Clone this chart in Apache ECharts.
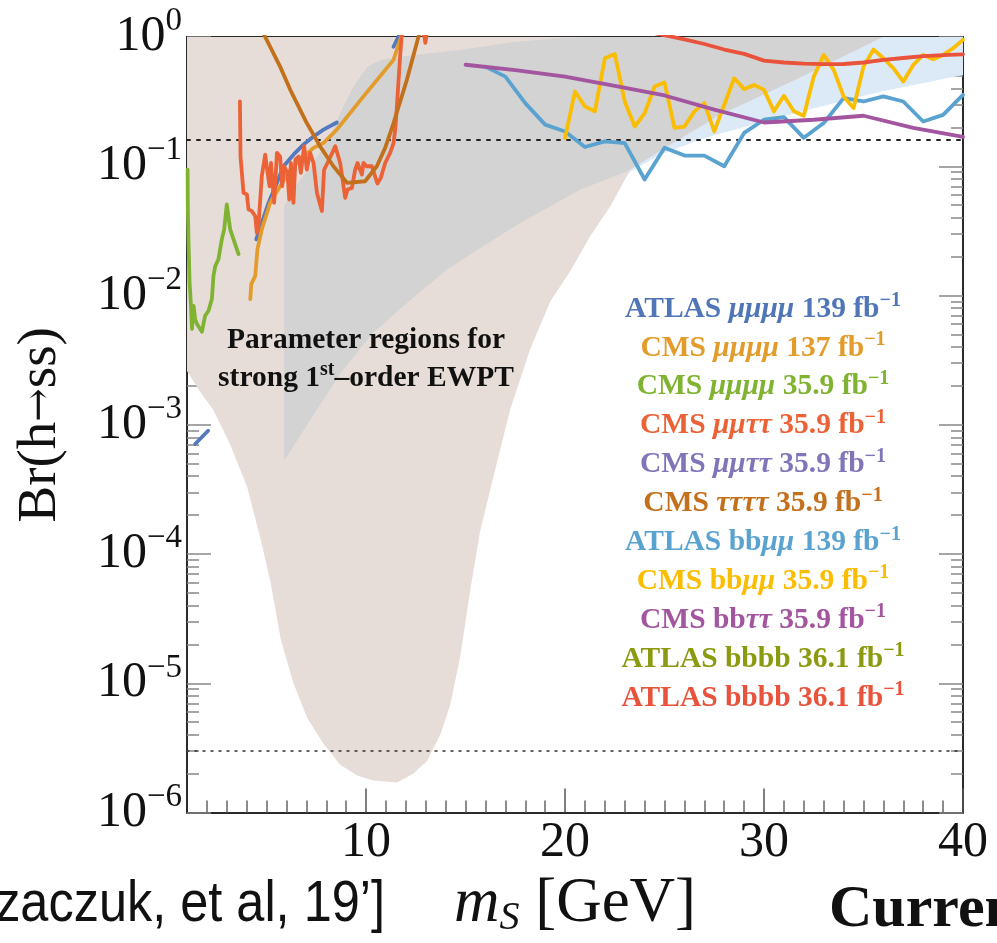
<!DOCTYPE html>
<html>
<head>
<meta charset="utf-8">
<script src="https://cdn.jsdelivr.net/npm/echarts@6/dist/echarts.min.js"></script>
<style>
  html, body { margin: 0; padding: 0; background: #ffffff; }
  #chart { width: 997px; height: 943px; }
</style>
</head>
<body>
<div id="chart"></div>
<script>
// ---- data: [m_S (GeV), Br(h -> ss)] ----

// parameter regions for a strong first-order EWPT
const ewptRegion = [
  [26.8, 1.0], [23.77, 0.113], [23.12, 0.0848], [22.27, 0.0489], [21.26, 0.0287],
  [20.26, 0.0154], [19.26, 0.00905], [18.25, 0.00386], [17.24, 0.00131], [16.59, 5.19e-4],
  [15.73, 1.50e-4], [15.23, 5.17e-5], [14.73, 1.60e-5], [14.23, 6.82e-6], [13.73, 4.01e-6],
  [13.07, 2.52e-6], [12.37, 2.00e-6], [11.56, 1.71e-6], [10.36, 1.77e-6], [9.55, 1.94e-6],
  [8.70, 2.35e-6], [7.85, 3.42e-6], [7.04, 5.42e-6], [6.34, 1.01e-5], [5.71, 2.20e-5],
  [5.21, 5.95e-5], [4.70, 1.30e-4], [4.03, 3.27e-4], [3.17, 7.03e-4], [2.32, 1.31e-3],
  [1.66, 1.80e-3], [1.0, 2.61e-3], [1.0, 1.0]
];
const blueRegion = [
  [23.12, 0.0879], [24.78, 0.123], [26.79, 0.161], [27.8, 0.179], [31.82, 0.264],
  [35.84, 0.377], [40, 0.509], [40, 1.0], [26.8, 1.0]
];
const grayRegion = [
  [5.88, 5.28e-4], [5.88, 0.0489], [6.34, 0.0661], [7.34, 0.107], [8.20, 0.169],
  [8.70, 0.259], [9.35, 0.411], [10.06, 0.587], [10.71, 0.665], [12.37, 0.727],
  [14.73, 0.794], [17.37, 0.915], [19.88, 0.982], [21.76, 1.0], [35.98, 1.0],
  [31.8, 0.483], [27.8, 0.250], [25.28, 0.147], [23.12, 0.091], [20.76, 0.0661],
  [17.39, 0.0337], [14.08, 0.0160], [11.71, 0.00785], [10.30, 0.00504], [8.70, 0.00248],
  [7.29, 0.00115]
];

// reference lines
const brExoticLimit = 0.16;
const brFutureReach = 3e-6;

// experimental limits (null = gap in the curve)
const atlas4mu139 = [
  [1.41, 7.1e-4], [2.06, 9.0e-4], null,
  [4.48, 0.0272], [4.76, 0.0366], [5.10, 0.0522], [5.52, 0.0745], [5.85, 0.100],
  [6.35, 0.123], [6.85, 0.147], [7.36, 0.170], [7.86, 0.192], [8.53, 0.218], null,
  [11.38, 0.84], [11.71, 1.07]
];
const cms4mu137 = [
  [4.18, 0.00938], [4.23, 0.01225], [4.43, 0.0142], [4.54, 0.0228], [4.76, 0.0325],
  [5.18, 0.0522], [5.68, 0.0701], [6.19, 0.0943], [6.69, 0.1127], [7.36, 0.1387],
  [7.86, 0.1514], [8.53, 0.192], [9.87, 0.347], [11.38, 0.665], [11.71, 0.948], [11.85, 1.1]
];
const cms4mu36 = [
  [1.03, 0.0943], [1.04, 0.0491], [1.08, 0.0242], [1.13, 0.0126], [1.2, 0.00833],
  [1.25, 0.00551], [1.33, 0.00833], [1.41, 0.00658], [1.5, 0.00602], [1.75, 0.00525],
  [1.91, 0.00697], [2.08, 0.00762], [2.25, 0.00938], [2.33, 0.0142], [2.42, 0.0169],
  [2.5, 0.0175], [2.58, 0.0191], [2.75, 0.0272], [2.87, 0.0325], [3.0, 0.0507],
  [3.17, 0.0325], [3.59, 0.0209]
];
const cms2mu2tau36 = [
  [3.66, 0.317], [3.69, 0.119], [3.76, 0.119], [3.84, 0.0623], [4.01, 0.0605],
  [4.09, 0.0464], [4.26, 0.045], [4.43, 0.0411], [4.51, 0.0306], [4.59, 0.0345],
  [4.76, 0.0838], [4.93, 0.123], [5.05, 0.0889], [5.15, 0.0701], [5.22, 0.106],
  [5.38, 0.0522], [5.52, 0.127], [5.68, 0.119], [5.78, 0.0701], [5.88, 0.1],
  [6.05, 0.0889], [6.14, 0.0553], [6.22, 0.106], [6.35, 0.0522], [6.45, 0.113],
  [6.62, 0.119], [6.72, 0.0889], [6.89, 0.143], [7.02, 0.0943], [7.19, 0.127],
  [7.36, 0.106], [7.53, 0.0623], [7.78, 0.045], [7.89, 0.0943], [8.06, 0.106],
  [8.30, 0.127], [8.45, 0.143], [8.70, 0.106], [8.95, 0.057], [9.07, 0.0661],
  [9.29, 0.068], [9.45, 0.0943], [9.57, 0.106], [9.79, 0.0863], [9.87, 0.106],
  [10.04, 0.1], [10.29, 0.1], [10.57, 0.0736], [10.74, 0.0813], [10.96, 0.106],
  [11.21, 0.127], [11.38, 0.151], [11.48, 0.203], [11.58, 0.347], [11.71, 0.705],
  [11.80, 1.07], null,
  [12.85, 1.2], [12.98, 0.9], [13.1, 1.2]
];
const cms4tau36 = [
  [4.85, 1.06], [5.68, 0.59], [6.19, 0.39], [7.02, 0.216], [7.69, 0.1426],
  [8.36, 0.1], [9.04, 0.0745], [9.95, 0.0766], [10.54, 0.1], [10.96, 0.1387],
  [11.38, 0.216], [12.05, 0.466], [12.63, 1.0], [12.72, 1.1]
];
const atlasBbmm139 = [
  [16, 0.59], [17, 0.494], [18, 0.308], [19, 0.21], [20, 0.186], [21, 0.141],
  [22, 0.156], [23, 0.151], [24, 0.079], [25, 0.139], [26, 0.121], [27, 0.121],
  [28, 0.10], [29, 0.181], [30, 0.229], [31, 0.240], [32, 0.166], [33, 0.216],
  [34, 0.337], [35, 0.317], [36, 0.347], [37, 0.317], [38, 0.222], [39, 0.25], [40, 0.357]
];
const cmsBbmm36 = [
  [20, 0.166], [20.5, 0.379], [21, 0.290], [21.5, 0.266], [22, 0.685], [22.5, 0.74],
  [23, 0.317], [23.5, 0.203], [24, 0.258], [24.5, 0.414], [25, 0.444], [25.5, 0.198],
  [26, 0.203], [26.5, 0.266], [27, 0.308], [27.5, 0.186], [28, 0.299], [28.5, 0.48],
  [29, 0.395], [29.5, 0.426], [30, 0.39], [30.5, 0.266], [31, 0.351], [31.5, 0.266],
  [32, 0.246], [32.5, 0.494], [33, 0.727], [33.5, 0.557], [34, 0.347], [34.5, 0.282],
  [35, 0.59], [35.5, 0.80], [36, 0.685], [36.5, 0.574], [37, 0.452], [37.5, 0.608],
  [38, 0.727], [38.5, 0.673], [39, 0.727], [39.5, 0.818], [40, 0.95]
];
const cmsBbtt36 = [
  [15, 0.61], [17.5, 0.555], [20, 0.494], [22.5, 0.419], [25, 0.353], [27.5, 0.274],
  [30, 0.218], [32.5, 0.229], [35, 0.246], [37.5, 0.198], [40, 0.169]
];
const atlasBbbb36 = [
  [24.5, 1.07], [26, 0.958], [27, 0.883], [28, 0.80], [29, 0.74], [30, 0.657],
  [31, 0.635], [32, 0.622], [33, 0.616], [34, 0.618], [35, 0.635], [36, 0.665],
  [37, 0.688], [38, 0.71], [39, 0.725], [40, 0.735]
];

// axis ticks
const xMajorTicks = [10, 20, 30, 40];
const xMinorTicks = [];
for (let i = 2; i < 40; i++) if (i % 10 !== 0) xMinorTicks.push(i);
const yMinorTicks = [];
for (let e = -6; e < 0; e++) for (let k = 2; k <= 9; k++) yMinorTicks.push(Math.log10(k) + e);

// legend rows (rich text markup, colour)
const legendRows = [
  ['{n|ATLAS }{g|μμμμ}{n| 139 fb}{s|−1}', '#5176b8'],
  ['{n|CMS }{g|μμμμ}{n| 137 fb}{s|−1}', '#e39c2c'],
  ['{n|CMS }{g|μμμμ}{n| 35.9 fb}{s|−1}', '#80b332'],
  ['{n|CMS }{g|μμττ}{n| 35.9 fb}{s|−1}', '#ec6237'],
  ['{n|CMS }{g|μμττ}{n| 35.9 fb}{s|−1}', '#8274b8'],
  ['{n|CMS }{g|ττττ}{n| 35.9 fb}{s|−1}', '#c3701c'],
  ['{n|ATLAS bb}{g|μμ}{n| 139 fb}{s|−1}', '#5aa3d0'],
  ['{n|CMS bb}{g|μμ}{n| 35.9 fb}{s|−1}', '#fbbd00'],
  ['{n|CMS bb}{g|ττ}{n| 35.9 fb}{s|−1}', '#a3559f'],
  ['{n|ATLAS bbbb 36.1 fb}{s|−1}', '#8b9a0f'],
  ['{n|ATLAS bbbb 36.1 fb}{s|−1}', '#e9523b']
];

// ---- drawing ----
const SERIF = '"Liberation Serif", "Times New Roman", "DejaVu Serif", serif';
const SANS = '"Liberation Sans", Arial, sans-serif';
const toLog = v => Math.log10(v);

function region(name, pts, color, z) {
  return {
    type: 'custom', name, z, silent: true, clip: true, animation: false,
    coordinateSystem: 'cartesian2d', xAxisIndex: 0, yAxisIndex: 0,
    data: [[pts[0][0], toLog(pts[0][1])]],
    renderItem: (params, api) => ({
      type: 'polygon',
      shape: { points: pts.map(p => api.coord([p[0], toLog(p[1])])) },
      style: { fill: color, stroke: null }
    })
  };
}

function curve(name, pts, color, z, width, dash) {
  const runs = [[]];
  pts.forEach(p => { if (p === null) runs.push([]); else runs[runs.length - 1].push(p); });
  return runs.filter(r => r.length > 1).map(run => ({
    type: 'line', name, z, silent: true, animation: false, clip: true,
    xAxisIndex: 0, yAxisIndex: 0,
    showSymbol: false, symbol: 'none', smooth: false,
    data: run.map(p => [p[0], toLog(p[1])]),
    lineStyle: { color, width: width || 3.8, type: dash || 'solid', cap: 'round', join: 'round' },
    itemStyle: { color },
    emphasis: { disabled: true }
  }));
}

const series = [
  region('EWPT region', ewptRegion, '#e6ddd8', 1),
  region('blue region', blueRegion, '#dce9f7', 2),
  region('gray region', grayRegion, '#d3d3d3', 3),
  ...curve('Br limit', [[1, brExoticLimit], [40, brExoticLimit]], '#222', 4, 2, [3, 7]),
  ...curve('future reach', [[1, brFutureReach], [40, brFutureReach]], '#333', 4, 1.5, [2, 6]),
  ...curve('CMS μμμμ 35.9', cms4mu36, '#80b332', 5),
  ...curve('ATLAS μμμμ 139', atlas4mu139, '#5479bd', 6),
  ...curve('CMS μμμμ 137', cms4mu137, '#e39c2c', 7),
  ...curve('CMS μμττ 35.9', cms2mu2tau36, '#ec6237', 8),
  ...curve('CMS ττττ 35.9', cms4tau36, '#c3701c', 9),
  ...curve('ATLAS bbμμ 139', atlasBbmm139, '#5aa3d0', 10),
  ...curve('CMS bbμμ 35.9', cmsBbmm36, '#fbbd00', 11),
  ...curve('CMS bbττ 35.9', cmsBbtt36, '#a3559f', 12),
  ...curve('ATLAS bbbb 36.1', atlasBbbb36, '#e9523b', 13)
];

const xBase = { type: 'value', min: 1, max: 40, splitLine: { show: false } };
const yBase = { type: 'value', min: -6, max: 0, interval: 1, splitLine: { show: false } };
const frameLine = { show: true, onZero: false, lineStyle: { color: '#2a2a2a', width: 2 } };
const noLine = { show: false, onZero: false };

const xAxes = [
  Object.assign({}, xBase, {
    position: 'bottom', axisLine: frameLine,
    axisTick: { show: true, inside: true, length: 24, customValues: xMajorTicks, lineStyle: { color: '#555', width: 1.5 } },
    axisLabel: { customValues: xMajorTicks, fontFamily: SERIF, fontSize: 50, color: '#111', margin: 5 },
    name: '{i|m}{sub|S}{r| [GeV]}', nameLocation: 'middle', nameGap: 57,
    nameTextStyle: {
      rich: {
        i: { fontFamily: SERIF, fontStyle: 'italic', fontSize: 63, color: '#111', lineHeight: 68 },
        sub: { fontFamily: SERIF, fontStyle: 'italic', fontSize: 40, color: '#111', lineHeight: 38, verticalAlign: 'bottom' },
        r: { fontFamily: SERIF, fontSize: 63, color: '#111', lineHeight: 68 }
      }
    }
  }),
  Object.assign({}, xBase, {
    position: 'bottom', axisLine: noLine,
    axisTick: { show: true, inside: true, length: 12, customValues: xMinorTicks, lineStyle: { color: '#666', width: 1.5 } },
    axisLabel: { show: false }
  }),
  Object.assign({}, xBase, {
    position: 'top', axisLine: frameLine,
    axisTick: { show: true, inside: true, length: 24, customValues: xMajorTicks, lineStyle: { color: '#333', width: 1.5 } },
    axisLabel: { show: false }
  }),
  Object.assign({}, xBase, {
    position: 'top', axisLine: noLine,
    axisTick: { show: true, inside: true, length: 11, customValues: xMinorTicks, lineStyle: { color: '#333', width: 1.5 } },
    axisLabel: { show: false }
  })
];

const yAxes = [
  Object.assign({}, yBase, {
    position: 'left', axisLine: frameLine,
    axisTick: { show: true, inside: true, length: 24, lineStyle: { color: '#888', width: 1.5 } },
    axisLabel: {
      margin: 5,
      formatter: v => {
        const e = Math.round(v);
        return '{b|10}{s|' + (e < 0 ? '−' + (-e) : String(e)) + '}';
      },
      rich: {
        b: { fontFamily: SERIF, fontSize: 50, color: '#111', lineHeight: 64 },
        s: { fontFamily: SERIF, fontSize: 33, color: '#111', lineHeight: 30, verticalAlign: 'top' }
      }
    },
    name: '{t|Br(h}{a|→}{t|ss)}', nameLocation: 'middle', nameGap: 116, nameRotate: 90,
    nameTextStyle: {
      rich: {
        t: { fontFamily: SERIF, fontSize: 55, color: '#111', lineHeight: 60 },
        a: { fontFamily: '"DejaVu Serif", serif', fontSize: 40, color: '#111', lineHeight: 60 }
      }
    }
  }),
  Object.assign({}, yBase, {
    position: 'left', axisLine: noLine,
    axisTick: { show: true, inside: true, length: 12, customValues: yMinorTicks, lineStyle: { color: '#888', width: 1.5 } },
    axisLabel: { show: false }
  }),
  Object.assign({}, yBase, {
    position: 'right', axisLine: frameLine,
    axisTick: { show: true, inside: true, length: 24, lineStyle: { color: '#888', width: 1.5 } },
    axisLabel: { show: false }
  }),
  Object.assign({}, yBase, {
    position: 'right', axisLine: noLine,
    axisTick: { show: true, inside: true, length: 12, customValues: yMinorTicks, lineStyle: { color: '#888', width: 1.5 } },
    axisLabel: { show: false }
  })
];

function richStyles(color) {
  return {
    n: { fontFamily: SERIF, fontWeight: 'bold', fontSize: 29.5, lineHeight: 36, fill: color, color },
    g: { fontFamily: SERIF, fontWeight: 'bold', fontStyle: 'italic', fontSize: 29.5, lineHeight: 36, fill: color, color },
    s: { fontFamily: SERIF, fontWeight: 'bold', fontSize: 20, lineHeight: 18, verticalAlign: 'top', fill: color, color }
  };
}

const graphics = legendRows.map((row, i) => ({
  type: 'text', x: 763, y: 309 + i * 38.9, z: 20, silent: true,
  style: {
    text: row[0], fill: row[1],
    align: 'center', verticalAlign: 'middle', textAlign: 'center', textVerticalAlign: 'middle',
    rich: richStyles(row[1])
  }
}));

const noteRich = {
  b: { fontFamily: SERIF, fontWeight: 'bold', fontSize: 29.5, lineHeight: 36, fill: '#111' },
  p: { fontFamily: SERIF, fontWeight: 'bold', fontSize: 20, lineHeight: 18, verticalAlign: 'top', fill: '#111' }
};
graphics.push(
  { type: 'text', x: 366, y: 340, z: 20, silent: true,
    style: { text: '{b|Parameter regions for}', fill: '#111', align: 'center', verticalAlign: 'middle', textAlign: 'center', textVerticalAlign: 'middle', rich: noteRich } },
  { type: 'text', x: 366, y: 378, z: 20, silent: true,
    style: { text: '{b|strong 1}{p|st}{b|–order EWPT}', fill: '#111', align: 'center', verticalAlign: 'middle', textAlign: 'center', textVerticalAlign: 'middle', rich: noteRich } },
  { type: 'text', x: 385, y: 905, z: 20, silent: true, scaleX: 0.87, originX: 0, originY: 0,
    style: { text: '[Kozaczuk, et al, 19’]', fill: '#111', font: '58px ' + SANS, align: 'right', verticalAlign: 'middle', textAlign: 'right', textVerticalAlign: 'middle' } },
  { type: 'text', x: 829, y: 910, z: 20, silent: true,
    style: { text: 'Current', fill: '#111', font: 'bold 60px ' + SERIF, align: 'left', verticalAlign: 'middle', textAlign: 'left', textVerticalAlign: 'middle' } }
);

const chart = echarts.init(document.getElementById('chart'), null, { renderer: 'canvas' });
chart.setOption({
  backgroundColor: '#ffffff',
  animation: false,
  grid: { left: 187, top: 37, right: 34, bottom: 128, containLabel: false },
  xAxis: xAxes,
  yAxis: yAxes,
  series,
  graphic: graphics
});
</script>
</body>
</html>
